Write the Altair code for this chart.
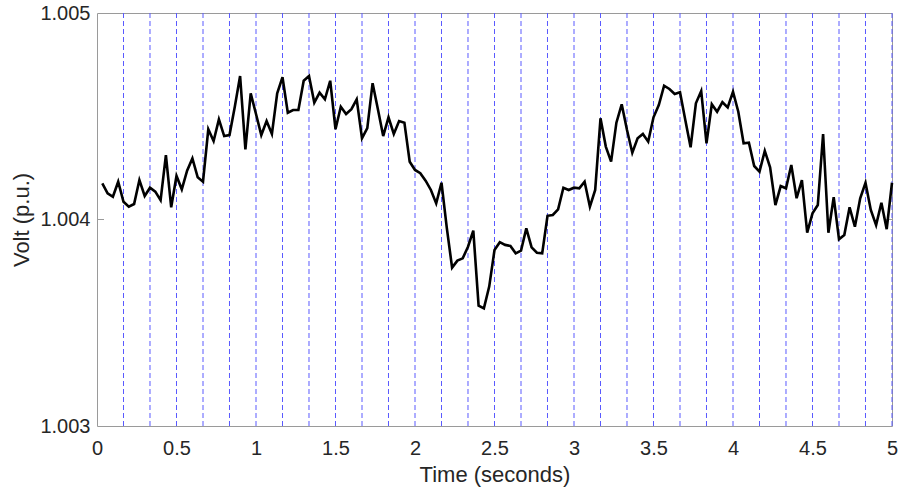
import altair as alt
import pandas as pd

# Sample times: one sample every 1/30 s, from 1/30 s to 5 s
sample_index = list(range(1, 151))
time_s = [round(k / 30, 5) for k in sample_index]

volt_pu = [
    1.004175, 1.004127, 1.004110, 1.004183, 1.004086, 1.004062, 1.004075, 1.004191, 1.004114, 1.004154,
    1.004135, 1.004094, 1.004312, 1.004059, 1.004211, 1.004146, 1.004236, 1.004296, 1.004204, 1.004183,
    1.004437, 1.004380, 1.004485, 1.004404, 1.004409, 1.004546, 1.004695, 1.004340, 1.004611, 1.004511,
    1.004409, 1.004477, 1.004414, 1.004611, 1.004689, 1.004517, 1.004530, 1.004530, 1.004672, 1.004695,
    1.004566, 1.004614, 1.004582, 1.004672, 1.004437, 1.004546, 1.004511, 1.004534, 1.004582, 1.004393,
    1.004442, 1.004660, 1.004534, 1.004404, 1.004495, 1.004414, 1.004477, 1.004469, 1.004280, 1.004240,
    1.004224, 1.004188, 1.004143, 1.004078, 1.004178, 1.003959, 1.003767, 1.003801, 1.003812, 1.003868,
    1.003946, 1.003583, 1.003570, 1.003675, 1.003852, 1.003890, 1.003877, 1.003872, 1.003836, 1.003849,
    1.003957, 1.003865, 1.003839, 1.003836, 1.004018, 1.004022, 1.004049, 1.004154, 1.004143, 1.004154,
    1.004151, 1.004183, 1.004062, 1.004143, 1.004490, 1.004353, 1.004280, 1.004469, 1.004558, 1.004433,
    1.004323, 1.004393, 1.004414, 1.004377, 1.004495, 1.004554, 1.004648, 1.004632, 1.004608, 1.004616,
    1.004482, 1.004350, 1.004563, 1.004622, 1.004369, 1.004558, 1.004522, 1.004568, 1.004543, 1.004619,
    1.004522, 1.004369, 1.004372, 1.004259, 1.004232, 1.004332, 1.004253, 1.004070, 1.004162, 1.004151,
    1.004264, 1.004103, 1.004191, 1.003936, 1.004030, 1.004070, 1.004414, 1.003936, 1.004108, 1.003904,
    1.003925, 1.004059, 1.003965, 1.004103, 1.004178, 1.004046, 1.003973, 1.004081, 1.003953, 1.004178,
]

# Vertical dashed markers every 1/6 s
marker_times = [round(k / 6, 5) for k in range(1, 31)]

x_ticks = [0, 0.5, 1, 1.5, 2, 2.5, 3, 3.5, 4, 4.5, 5]
y_ticks = [1.003, 1.004, 1.005]
y_inner_ticks = [1.004]

line_df = pd.DataFrame({"t": time_s, "v": volt_pu})
mark_df = pd.DataFrame({"t": marker_times})
ytick_df = pd.DataFrame({"v": y_inner_ticks})

FONT = "Liberation Sans"

x_scale = alt.Scale(domain=[0, 5], nice=False, zero=False)
y_scale = alt.Scale(domain=[1.003, 1.005], nice=False, zero=False)

x_axis = alt.Axis(
    values=x_ticks, format="~g", title="Time (seconds)", grid=False, ticks=False,
    domain=False, labelFontSize=20, titleFontSize=22, labelColor="#262626",
    titleColor="#262626", labelFont=FONT, titleFont=FONT, titleFontWeight="normal",
    labelPadding=12, titlePadding=6, labelFlush=False,
)
y_axis = alt.Axis(
    values=y_ticks, format=".3f", title="Volt (p.u.)", grid=False, ticks=False,
    domain=False, labelFontSize=20, titleFontSize=22, labelColor="#262626",
    titleColor="#262626", labelFont=FONT, titleFont=FONT, titleFontWeight="normal",
    labelPadding=7, titlePadding=6, labelFlush=False,
)

markers = alt.Chart(mark_df).mark_rule(
    color="#5a5aff", strokeWidth=1, strokeDash=[5, 3]
).encode(x=alt.X("t:Q", scale=x_scale, axis=x_axis))

series = alt.Chart(line_df).mark_line(
    color="black", strokeWidth=2.6, strokeJoin="miter"
).encode(
    x=alt.X("t:Q", scale=x_scale, axis=x_axis),
    y=alt.Y("v:Q", scale=y_scale, axis=y_axis),
)

tick_left = alt.Chart(ytick_df).mark_rule(color="#9a9a9a", strokeWidth=1).encode(
    y=alt.Y("v:Q", scale=y_scale, axis=y_axis), x=alt.value(0), x2=alt.value(7)
)
tick_right = alt.Chart(ytick_df).mark_rule(color="#9a9a9a", strokeWidth=1).encode(
    y=alt.Y("v:Q", scale=y_scale, axis=y_axis), x=alt.value(788), x2=alt.value(795)
)

chart = alt.layer(markers, tick_left, tick_right, series).properties(
    width=795, height=413,
    autosize=alt.AutoSizeParams(type="none"),
    padding={"left": 97, "top": 13, "right": 7, "bottom": 67},
    background="white",
).configure_view(stroke="#9a9a9a", strokeWidth=1)

chart.save("out.html", embed_options={"renderer": "svg", "actions": False})
